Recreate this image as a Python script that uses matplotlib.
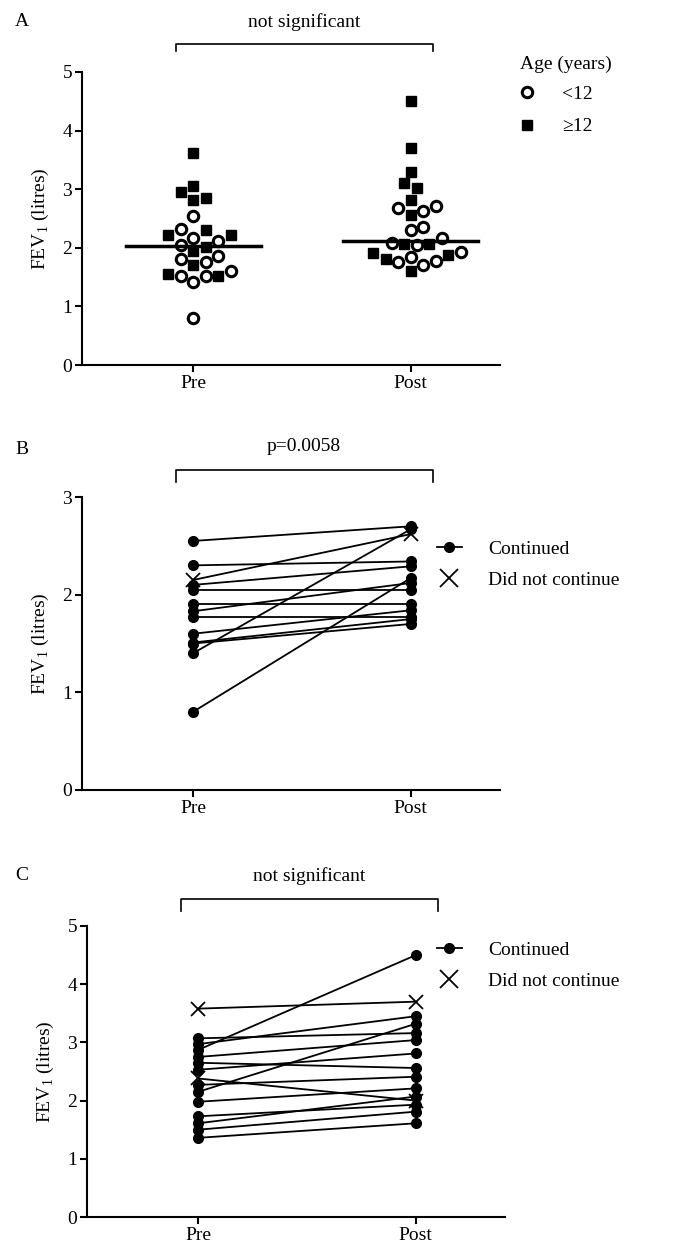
import numpy as np
import matplotlib
matplotlib.use('Agg')
import matplotlib.pyplot as plt
from matplotlib.lines import Line2D

plt.rcParams['font.family'] = ['Liberation Serif', 'DejaVu Serif']
plt.rcParams['font.size'] = 14
plt.rcParams['mathtext.fontset'] = 'custom'
plt.rcParams['mathtext.rm'] = 'Liberation Serif'

# ---- data (FEV1, litres) ----
groups = ['Pre', 'Post']

# Panel A: by age group
pre_under12 = [2.55, 2.32, 2.11, 2.17, 2.05, 1.81, 1.86, 1.76, 1.61, 1.52, 1.52, 1.41, 0.80]
pre_over12 = [3.61, 3.06, 2.96, 2.81, 2.85, 2.21, 2.21, 2.31, 2.01, 1.95, 1.71, 1.52, 1.55]
post_under12 = [2.71, 2.68, 2.62, 2.30, 2.36, 2.17, 2.09, 2.05, 1.92, 1.85, 1.75, 1.71, 1.77]
post_over12 = [4.51, 3.70, 3.30, 3.11, 3.02, 2.81, 2.56, 2.06, 2.06, 1.81, 1.88, 1.91, 1.61]
centre_line = [2.03, 2.12]

# Panel B: paired values
b_pre_cont = [2.55, 2.30, 2.10, 2.05, 1.90, 1.83, 1.77, 1.60, 1.51, 1.50, 1.40, 0.80]
b_post_cont = [2.70, 2.34, 2.29, 2.05, 1.90, 2.12, 1.77, 1.84, 1.75, 1.70, 2.67, 2.17]
b_pre_stop = [2.15]
b_post_stop = [2.62]

# Panel C: paired values
c_pre_cont = [3.07, 2.97, 2.87, 2.75, 2.65, 2.53, 2.27, 2.15, 1.98, 1.73, 1.61, 1.50, 1.36]
c_post_cont = [3.16, 3.45, 4.50, 3.04, 2.56, 2.81, 2.41, 3.32, 2.21, 1.93, 2.07, 1.81, 1.61]
c_pre_stop = [3.58, 2.38]
c_post_stop = [3.70, 2.00]

W, H = 686, 1249
fig = plt.figure(figsize=(W / 100, H / 100), dpi=100)


def px_rect(left, top, right, bottom):
    return [left / W, 1 - bottom / H, (right - left) / W, (bottom - top) / H]


def style_axes(ax, ymax):
    ax.set_xlim(-0.51, 1.41)
    ax.set_ylim(0, ymax)
    ax.spines['top'].set_visible(False)
    ax.spines['right'].set_visible(False)
    for s in ('left', 'bottom'):
        ax.spines[s].set_linewidth(1.5)
    ax.set_xticks([0, 1])
    ax.set_xticklabels(groups)
    ax.set_yticks(np.arange(0, ymax + 1))
    ax.tick_params(direction='out', length=5, width=1.5, labelsize=14, pad=2)
    ax.set_ylabel(r'FEV$_\mathrm{1}$ (litres)', fontsize=14, labelpad=8)


def bracket(ax, y, drop, text, ty):
    ax.plot([-0.08, -0.08, 1.10, 1.10], [y - drop, y, y, y - drop], color='black',
            lw=1.2, clip_on=False)
    ax.text(0.51, ty, text, ha='center', va='center', fontsize=14)


def swarm_offsets(ax, x0, values, size_px):
    # simple beeswarm: stack points sideways so markers do not overlap
    trans = ax.transData
    inv = trans.inverted()
    placed = []
    xs = np.zeros(len(values))
    for i in np.argsort(values):
        xd, yd = trans.transform((x0, values[i]))
        for k in range(60):
            cands = [xd] if k == 0 else [xd + k * size_px / 2, xd - k * size_px / 2]
            ok = None
            for c in cands:
                if all(np.hypot(c - px, yd - py) >= size_px for px, py in placed):
                    ok = c
                    break
            if ok is not None:
                break
        placed.append((ok, yd))
        xs[i] = inv.transform((ok, yd))[0]
    return xs


# ---- Panel A ----
axA = fig.add_axes(px_rect(82, 72, 500, 365))
style_axes(axA, 5)
for xi, (u, o) in enumerate([(pre_under12, pre_over12), (post_under12, post_over12)]):
    vals = np.array(u + o)
    xs = swarm_offsets(axA, xi, vals, 12.5)
    n = len(u)
    axA.plot(xs[:n], vals[:n], 'o', ms=7.5, mfc='white', mec='black', mew=2.2,
             linestyle='none', zorder=3)
    axA.plot(xs[n:], vals[n:], 's', ms=6.5, color='black', linestyle='none', zorder=3)
    axA.plot([xi - 0.31, xi + 0.31], [centre_line[xi]] * 2, color='black', lw=2.5, zorder=4)
bracket(axA, 5.47, 0.12, 'not significant', 5.85)
hA = [Line2D([], [], marker='o', ms=7.5, mfc='white', mec='black', mew=2.2, ls='none'),
      Line2D([], [], marker='s', ms=6.5, color='black', ls='none')]
axA.legend(hA, ['<12', '\u226512'], loc='upper left',
           bbox_to_anchor=(1.0, 0.98), frameon=False, fontsize=14,
           handletextpad=0.8, labelspacing=0.75, borderaxespad=0)
axA.text(520 / W, 1 - 64 / H, 'Age (years)', transform=fig.transFigure,
         ha='left', va='center', fontsize=14)

# ---- Panel B ----
axB = fig.add_axes(px_rect(82, 497, 500, 790))
style_axes(axB, 3)
for a, b in zip(b_pre_cont, b_post_cont):
    axB.plot([0, 1], [a, b], '-o', color='black', ms=7, lw=1.3)
for a, b in zip(b_pre_stop, b_post_stop):
    axB.plot([0, 1], [a, b], '-x', color='black', ms=10, mew=1.3, lw=1.3)
bracket(axB, 3.28, 0.13, 'p=0.0058', 3.52)

# ---- Panel C ----
axC = fig.add_axes(px_rect(87, 926, 505, 1217))
style_axes(axC, 5)
for a, b in zip(c_pre_cont, c_post_cont):
    axC.plot([0, 1], [a, b], '-o', color='black', ms=7, lw=1.3)
for a, b in zip(c_pre_stop, c_post_stop):
    axC.plot([0, 1], [a, b], '-x', color='black', ms=10, mew=1.3, lw=1.3)
bracket(axC, 5.47, 0.22, 'not significant', 5.85)

hBC = [Line2D([], [], marker='o', ms=7, color='black', lw=1.3),
       Line2D([], [], marker='x', ms=13, mew=1.3, color='black', ls='none')]
for ax, anchor in ((axB, (0.83, 0.88)), (axC, (0.818, 0.975))):
    ax.legend(hBC, ['Continued', 'Did not continue'], loc='upper left',
              bbox_to_anchor=anchor, frameon=False, fontsize=14,
              handlelength=1.3, handletextpad=1.35, labelspacing=0.7, borderaxespad=0)

# panel labels
for lab, y in (('A', 22), ('B', 450), ('C', 875)):
    fig.text(15 / W, 1 - y / H, lab, fontsize=14, ha='left', va='center')

fig.savefig('out.png', dpi=100)
